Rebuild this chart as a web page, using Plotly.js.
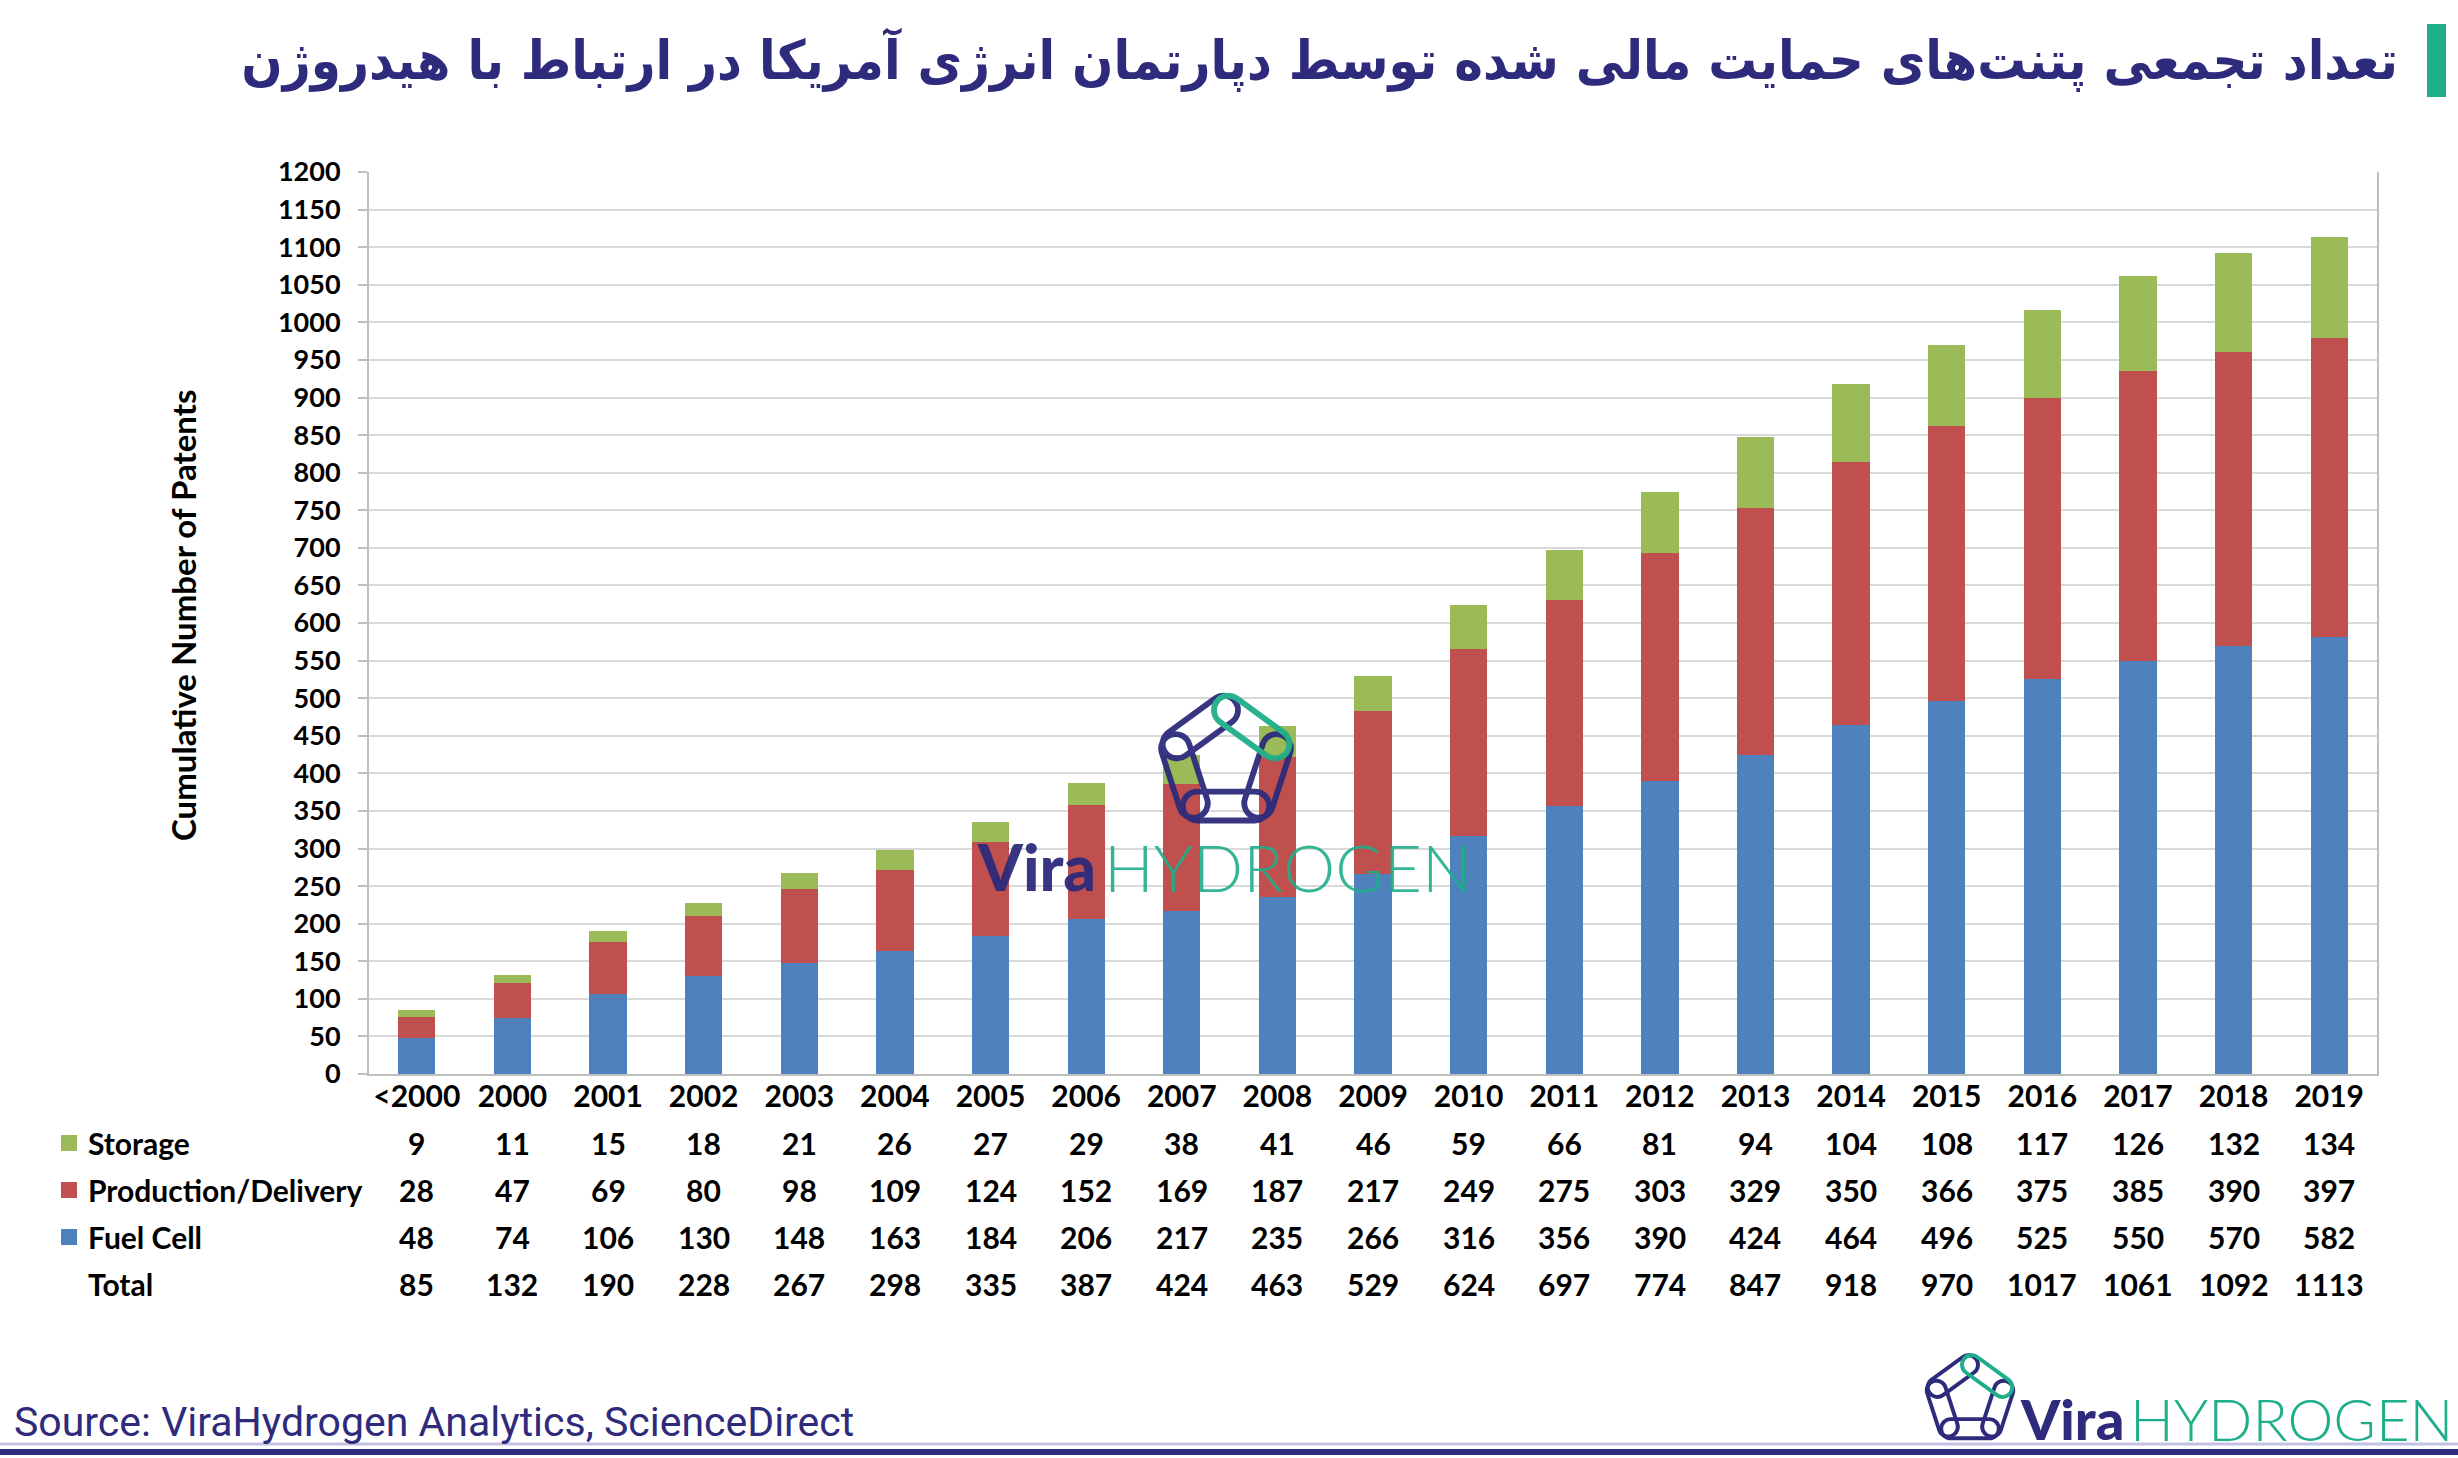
<!DOCTYPE html>
<html>
<head>
<meta charset="utf-8">
<script src="https://cdn.plot.ly/plotly-3.0.1.min.js"></script>
<style>html,body{margin:0;padding:0;background:#fff;}#chart{width:2458px;height:1458px;}</style>
</head>
<body>
<div id="chart"></div>
<script>
// ---------------- DATA ----------------
const categories = ['<2000','2000','2001','2002','2003','2004','2005','2006','2007','2008','2009','2010','2011','2012','2013','2014','2015','2016','2017','2018','2019'];
const storage    = [9,11,15,18,21,26,27,29,38,41,46,59,66,81,94,104,108,117,126,132,134];
const production = [28,47,69,80,98,109,124,152,169,187,217,249,275,303,329,350,366,375,385,390,397];
const fuelCell   = [48,74,106,130,148,163,184,206,217,235,266,316,356,390,424,464,496,525,550,570,582];
const totals     = [85,132,190,228,267,298,335,387,424,463,529,624,697,774,847,918,970,1017,1061,1092,1113];
const seriesNames = ['Storage','Production/Delivery','Fuel Cell','Total'];
const titleText = 'تعداد تجمعی پتنت\u200cهای حمایت مالی شده توسط دپارتمان انرژی آمریکا در ارتباط با هیدروژن';
const yTitle = 'Cumulative Number of Patents';
const sourceText = 'Source: ViraHydrogen Analytics, ScienceDirect';

// ---------------- STYLE / LAYOUT HELPERS ----------------
const W = 2458, H = 1458;
const PL = 369, PR = 2377, PT = 172, PB = 1074;
const px2x = p => (p - PL) / (PR - PL);
const px2y = p => (PB - p) / (PB - PT);
const C_BLUE = '#4f81bd', C_RED = '#c0504d', C_GREEN = '#9bbb59';
const NAVY = '#2e2b7c', TEAL = '#1fae8a';
const FONT = 'Lato, "Open Sans", sans-serif';

function logoSVG(){
  const R = 60, L = 96, h = 32, sw = 6.5;
  const pts = [];
  for (let k = 0; k < 5; k++) {
    const a = (-90 + 72*k) * Math.PI/180;
    pts.push([R*Math.cos(a), R*Math.sin(a) + 6]);
  }
  let s = '<svg xmlns="http://www.w3.org/2000/svg" viewBox="-100 -100 200 200" width="200" height="200">';
  const order = [1,2,3,4,0];
  for (const i of order) {
    const p = pts[i], q = pts[(i+1)%5];
    const mx = (p[0]+q[0])/2, my = (p[1]+q[1])/2;
    const ang = Math.atan2(q[1]-p[1], q[0]-p[0]) * 180/Math.PI;
    const col = i === 0 ? TEAL : NAVY;
    s += '<rect x="' + (-L/2) + '" y="' + (-h/2) + '" width="' + L + '" height="' + h + '" rx="' + (h/2) + '" ry="' + (h/2) +
         '" fill="none" stroke="' + col + '" stroke-width="' + sw + '" transform="translate(' + mx.toFixed(2) + ' ' + my.toFixed(2) + ') rotate(' + ang.toFixed(2) + ')"/>';
  }
  s += '</svg>';
  return 'data:image/svg+xml;charset=utf-8,' + encodeURIComponent(s);
}

// ---------------- TRACES ----------------
const traces = [
  {type:'bar', name: seriesNames[2], x: categories, y: fuelCell,   marker:{color:C_BLUE},  hoverinfo:'x+y+name'},
  {type:'bar', name: seriesNames[1], x: categories, y: production, marker:{color:C_RED},   hoverinfo:'x+y+name'},
  {type:'bar', name: seriesNames[0], x: categories, y: storage,    marker:{color:C_GREEN}, hoverinfo:'x+y+name'}
];

// ---------------- TABLE (annotations) ----------------
const rows = [
  {label: seriesNames[0], vals: storage,    color: C_GREEN, py: 1143},
  {label: seriesNames[1], vals: production, color: C_RED,   py: 1190},
  {label: seriesNames[2], vals: fuelCell,   color: C_BLUE,  py: 1237},
  {label: seriesNames[3], vals: totals,     color: null,    py: 1284}
];
const annotations = [];
const shapes = [];
const tfont = {family: FONT, size: 27, color: '#000', weight: 700};
const lfont = {family: FONT, size: 30, color: '#000', weight: 700};
rows.forEach(r => {
  annotations.push({xref:'paper', yref:'paper', x: px2x(86), y: px2y(r.py), xanchor:'left', yanchor:'middle',
                    text: r.label, showarrow:false, font: lfont});
  r.vals.forEach((v, i) => {
    // category axis coordinate = category index
    annotations.push({xref:'x', yref:'paper', x: categories.indexOf(categories[i]), y: px2y(r.py), xanchor:'center', yanchor:'middle',
                      text: String(v), showarrow:false, font: lfont});
  });
  if (r.color) {
    shapes.push({type:'rect', xref:'paper', yref:'paper', x0: px2x(61), x1: px2x(77), y0: px2y(r.py-8), y1: px2y(r.py+8),
                 fillcolor: r.color, line:{width:0}});
  }
});

// y-axis title
annotations.push({xref:'paper', yref:'paper', x: px2x(183), y: px2y(616), xanchor:'center', yanchor:'middle',
                  textangle:-90, text: yTitle, showarrow:false, font:{family: FONT, size: 33, color:'#000', weight:700}});
// source
annotations.push({xref:'paper', yref:'paper', x: px2x(12), y: px2y(1422), xanchor:'left', yanchor:'middle',
                  text: sourceText, showarrow:false,
                  font:{family:'"Liberation Sans Narrow", "Roboto", sans-serif', size: 41, color: NAVY}});
// watermark text
annotations.push({xref:'paper', yref:'paper', x: px2x(1098), y: px2y(866), xanchor:'right', yanchor:'middle',
                  text: 'Vira', showarrow:false, opacity:0.95, font:{family: FONT, size: 64, color: NAVY, weight: 900}});
annotations.push({xref:'paper', yref:'paper', x: px2x(1102), y: px2y(866), xanchor:'left', yanchor:'middle',
                  text: 'HYDROGEN', showarrow:false, opacity:0.9, font:{family: FONT, size: 66, color: TEAL, weight: 300}});
// bottom-right logo text
annotations.push({xref:'paper', yref:'paper', x: px2x(2126), y: px2y(1418), xanchor:'right', yanchor:'middle',
                  text: 'Vira', showarrow:false, font:{family: FONT, size: 56, color: NAVY, weight: 900}});
annotations.push({xref:'paper', yref:'paper', x: px2x(2128), y: px2y(1418), xanchor:'left', yanchor:'middle',
                  text: 'HYDROGEN', showarrow:false, font:{family: FONT, size: 58, color: TEAL, weight: 300}});

// decorations
shapes.push({type:'rect', xref:'paper', yref:'paper', x0: px2x(2427), x1: px2x(2446), y0: px2y(24), y1: px2y(97),
             fillcolor: TEAL, line:{width:0}});
shapes.push({type:'line', xref:'paper', yref:'paper', x0: px2x(0), x1: px2x(W), y0: px2y(1444), y1: px2y(1444),
             line:{color:'#c4c1e3', width:3}});
shapes.push({type:'line', xref:'paper', yref:'paper', x0: px2x(0), x1: px2x(W), y0: px2y(1452), y1: px2y(1452),
             line:{color: NAVY, width:6}});

const logo = logoSVG();
const images = [
  {source: logo, xref:'paper', yref:'paper', x: px2x(1226), y: px2y(757), sizex: 180/(PR-PL), sizey: 180/(PB-PT),
   xanchor:'center', yanchor:'middle', sizing:'contain', layer:'above', opacity:0.95},
  {source: logo, xref:'paper', yref:'paper', x: px2x(1970), y: px2y(1396), sizex: 120/(PR-PL), sizey: 120/(PB-PT),
   xanchor:'center', yanchor:'middle', sizing:'contain', layer:'above'}
];

const layout = {
  width: W, height: H,
  margin: {l: PL, r: W-PR, t: PT, b: H-PB, pad: 0},
  paper_bgcolor: '#fff', plot_bgcolor: '#fff',
  barmode: 'stack', bargap: 0.61,
  showlegend: false,
  font: {family: FONT, color:'#000'},
  title: {text: titleText, xref:'container', yref:'container', x: 2398/W, xanchor:'right', y: 1 - 60/H, yanchor:'middle',
          font: {family:'"DejaVu Sans Condensed", "DejaVu Sans", sans-serif', size: 54, color: NAVY, weight: 700}},
  xaxis: {type:'category', range:[-0.5, categories.length - 0.5], tickvals: categories, ticktext: categories.map(c => c.replace('<','&lt;')),
          showline: true, linecolor:'#bfbfbf', linewidth: 2, ticks:'', showgrid:false,
          tickfont: lfont, ticklabelstandoff: -5, fixedrange:true},
  yaxis: {range:[0,1200], dtick:50, tick0:0, showgrid:true, gridcolor:'#d9d9d9', gridwidth:2,
          showline:true, linecolor:'#bfbfbf', linewidth:2, mirror:true, ticks:'outside', ticklen:9, tickcolor:'#bfbfbf', tickwidth:2,
          tickfont: tfont, ticklabelstandoff: 12, zeroline:false, fixedrange:true},
  annotations, shapes, images
};

Plotly.newPlot('chart', traces, layout, {displayModeBar:false, staticPlot:true});
</script>
</body>
</html>
